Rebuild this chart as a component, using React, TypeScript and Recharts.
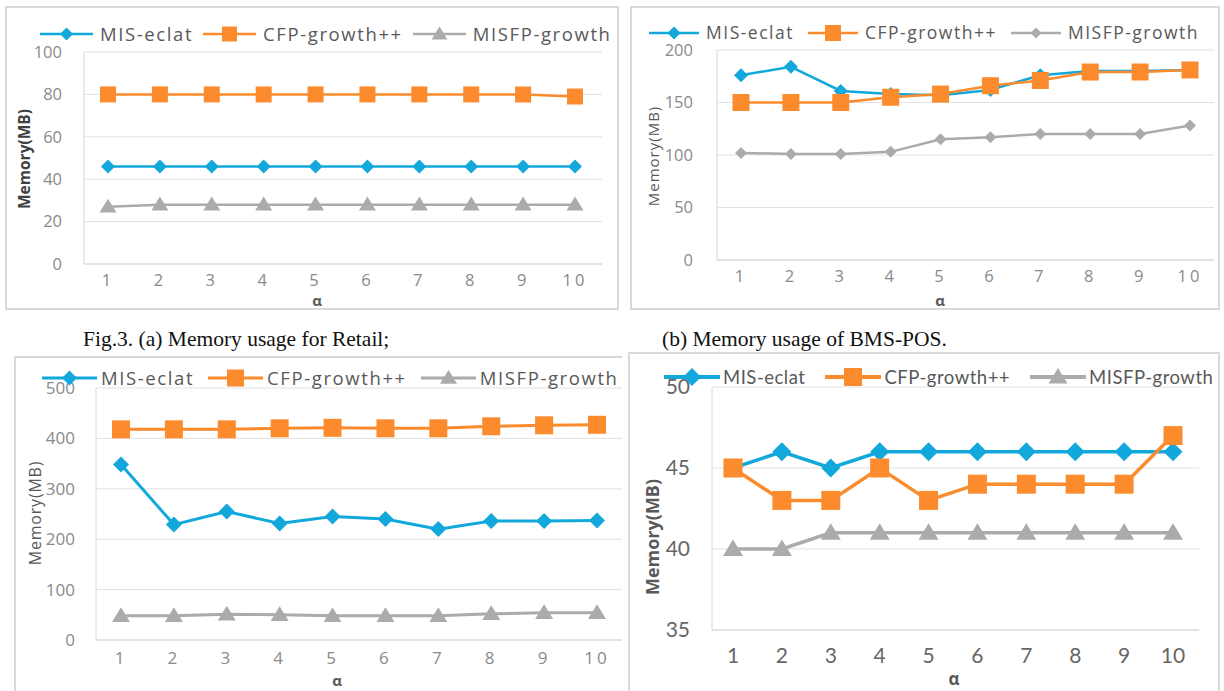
import React from "react";
import { LineChart, Line, XAxis, YAxis, CartesianGrid } from "recharts";

// x categories shared by all four panels
const alphaTicks = ["1", "2", "3", "4", "5", "6", "7", "8", "9", "10"];

const seriesNames = ["MIS-eclat", "CFP-growth++", "MISFP-growth"];
const seriesColors = ["#13a8dc", "#fb8b2d", "#ababab"];

// (a) Retail, top left
const retailEclat = [46, 46, 46, 46, 46, 46, 46, 46, 46, 46];
const retailCfp = [80, 80, 80, 80, 80, 80, 80, 80, 80, 79];
const retailMisfp = [27, 28, 28, 28, 28, 28, 28, 28, 28, 28];
const retailYTicks = [0, 20, 40, 60, 80, 100];

// (b) BMS-POS, top right
const posEclat = [176, 184, 161, 158, 157, 162, 176, 180, 180, 181];
const posCfp = [150, 150, 150, 155, 158, 166, 171, 179, 179, 181];
const posMisfp = [102, 101, 101, 103, 115, 117, 120, 120, 120, 128];
const posYTicks = [0, 50, 100, 150, 200];

// bottom left
const c3Eclat = [348, 229, 255, 231, 245, 240, 220, 236, 236, 237];
const c3Cfp = [418, 418, 418, 420, 421, 420, 420, 424, 426, 427];
const c3Misfp = [48, 48, 51, 50, 48, 48, 48, 52, 54, 54];
const c3YTicks = [0, 100, 200, 300, 400, 500];

// bottom right
const d3Eclat = [45, 46, 45, 46, 46, 46, 46, 46, 46, 46];
const d3Cfp = [45, 43, 43, 45, 43, 44, 44, 44, 44, 47];
const d3Misfp = [40, 40, 41, 41, 41, 41, 41, 41, 41, 41];
const d3YTicks = [35, 40, 45, 50];

type Shape = "diamond" | "square" | "triangle";

function markerPath(shape: Shape, cx: number, cy: number, s: number) {
  const h = s / 2;
  if (shape === "diamond") return `M${cx},${cy - h}L${cx + h},${cy}L${cx},${cy + h}L${cx - h},${cy}Z`;
  if (shape === "square") return `M${cx - h},${cy - h}h${s}v${s}h${-s}Z`;
  const th = s * 0.82;
  return `M${cx},${cy - th * 0.58}L${cx + h},${cy + th * 0.42}L${cx - h},${cy + th * 0.42}Z`;
}

type PanelCfg = {
  id: string;
  left: number;
  top: number;
  width: number;
  height: number;
  chartW: number;
  noRight?: boolean;
  plotLeft: number;
  plotRight: number;
  plotTop: number;
  plotBottom: number;
  padL: number;
  padR: number;
  yTicks: number[];
  series: number[][];
  shapes: Shape[];
  sizes: number[];
  strokeW: number;
  font: string;
  tickSize: number;
  tickColor: string;
  xTickMargin: number;
  xSpacing: number;
  yTickMargin: number;
  yLabel: { x: number; y: number; size: number; bold: boolean; color: string; spacing: number; font?: string };
  alphaPos: { x: number; y: number; size: number };
  legend: { x: number; y: number; lineW: number; gap: number; textGap: number; size: number; spacing: number; stroke: number };
};

const panels: PanelCfg[] = [
  {
    id: "a", left: 5, top: 6, width: 614, height: 304, chartW: 614,
    plotLeft: 84, plotRight: 602, plotTop: 52, plotBottom: 264, padL: 24, padR: 27,
    yTicks: retailYTicks, series: [retailEclat, retailCfp, retailMisfp],
    shapes: ["diamond", "square", "triangle"], sizes: [14, 16, 17], strokeW: 2.5,
    font: "'Open Sans', sans-serif", tickSize: 16.5, tickColor: "#8a8a8a", xTickMargin: 10, xSpacing: 3, yTickMargin: 22,
    yLabel: { x: 25, y: 159, size: 15.5, bold: true, color: "#404040", spacing: 0 },
    alphaPos: { x: 317, y: 300, size: 15 },
    legend: { x: 40, y: 34, lineW: 53, gap: 10, textGap: 7, size: 18.5, spacing: 1.6, stroke: 2.5 },
  },
  {
    id: "b", left: 630, top: 6, width: 590, height: 304, chartW: 590,
    plotLeft: 717, plotRight: 1214, plotTop: 50, plotBottom: 260, padL: 24, padR: 24,
    yTicks: posYTicks, series: [posEclat, posCfp, posMisfp],
    shapes: ["diamond", "square", "diamond"], sizes: [14, 17, 12], strokeW: 2.5,
    font: "'Open Sans', sans-serif", tickSize: 16.5, tickColor: "#8a8a8a", xTickMargin: 10, xSpacing: 3, yTickMargin: 24,
    yLabel: { x: 653, y: 156, size: 15, bold: false, color: "#595959", spacing: 1 },
    alphaPos: { x: 940, y: 300, size: 15 },
    legend: { x: 649, y: 33, lineW: 50, gap: 14, textGap: 7, size: 17.5, spacing: 1.5, stroke: 2.5 },
  },
  {
    id: "c", left: 14, top: 356, width: 608, height: 340, chartW: 616, noRight: true,
    plotLeft: 96, plotRight: 624, plotTop: 388, plotBottom: 640, padL: 25, padR: 27,
    yTicks: c3YTicks, series: [c3Eclat, c3Cfp, c3Misfp],
    shapes: ["diamond", "square", "triangle"], sizes: [16, 18, 18], strokeW: 3,
    font: "'Open Sans', sans-serif", tickSize: 17, tickColor: "#8a8a8a", xTickMargin: 12, xSpacing: 3, yTickMargin: 21,
    yLabel: { x: 35, y: 513, size: 16, bold: false, color: "#595959", spacing: 0.8 },
    alphaPos: { x: 337, y: 680, size: 15 },
    legend: { x: 42, y: 378, lineW: 55, gap: 14, textGap: 4, size: 18.5, spacing: 1.6, stroke: 3 },
  },
  {
    id: "d", left: 628, top: 352, width: 592, height: 345, chartW: 592,
    plotLeft: 712, plotRight: 1199, plotTop: 387, plotBottom: 630, padL: 21, padR: 26,
    yTicks: d3YTicks, series: [d3Eclat, d3Cfp, d3Misfp],
    shapes: ["diamond", "square", "triangle"], sizes: [19, 19, 20], strokeW: 3.5,
    font: "Lato, sans-serif", tickSize: 21, tickColor: "#666666", xTickMargin: 18, xSpacing: 0, yTickMargin: 22,
    yLabel: { x: 652, y: 537, size: 18, bold: true, color: "#595959", spacing: 0, font: "'Open Sans', sans-serif" },
    alphaPos: { x: 954, y: 678, size: 17 },
    legend: { x: 664, y: 377, lineW: 56, gap: 20, textGap: 3, size: 18.5, spacing: 0.5, stroke: 4 },
  },
];

function Legend({ p }: { p: PanelCfg }) {
  const L = p.legend;
  return (
    <div
      style={{
        position: "absolute",
        left: L.x - p.left,
        top: L.y - p.top,
        transform: "translateY(-50%)",
        display: "flex",
        alignItems: "center",
        whiteSpace: "nowrap",
        fontFamily: p.font,
        fontSize: L.size,
        letterSpacing: L.spacing,
        color: "#595959",
        lineHeight: 1,
      }}
    >
      {seriesNames.map((name, i) => (
        <div key={name} style={{ display: "flex", alignItems: "center", marginRight: L.gap }}>
          <svg width={L.lineW} height={22} style={{ display: "block" }}>
            <line x1={0} y1={11} x2={L.lineW} y2={11} stroke={seriesColors[i]} strokeWidth={L.stroke} />
            <path d={markerPath(p.shapes[i], L.lineW / 2, 11, p.sizes[i] - 1)} fill={seriesColors[i]} />
          </svg>
          <span style={{ marginLeft: L.textGap }}>{name}</span>
        </div>
      ))}
    </div>
  );
}

function Panel({ p }: { p: PanelCfg }) {
  const data = alphaTicks.map((a, i) => ({
    alpha: a,
    s0: p.series[0][i],
    s1: p.series[1][i],
    s2: p.series[2][i],
  }));
  const yMin = p.yTicks[0];
  const yMax = p.yTicks[p.yTicks.length - 1];

  return (
    <div
      style={{
        position: "absolute",
        left: p.left,
        top: p.top,
        width: p.width,
        height: p.height,
        overflow: "hidden",
      }}
    >
      <div
        style={{
          position: "absolute",
          inset: 0,
          boxSizing: "border-box",
          border: "2px solid #d9d9d9",
          borderRight: p.noRight ? "none" : "2px solid #d9d9d9",
        }}
      />
      <div style={{ position: "absolute", left: 0, top: 0 }}>
        <LineChart
          width={p.chartW}
          height={p.height}
          data={data}
          margin={{ top: p.plotTop - p.top, right: p.left + p.chartW - p.plotRight, left: 0, bottom: 0 }}
        >
          <CartesianGrid vertical={false} stroke="#e2e2e2" strokeWidth={1} />
          <XAxis
            dataKey="alpha"
            height={p.top + p.height - p.plotBottom}
            padding={{ left: p.padL, right: p.padR }}
            interval={0}
            tickLine={false}
            tickSize={0}
            tickMargin={p.xTickMargin}
            axisLine={{ stroke: "#d6d6d6" }}
            tick={{ fill: p.tickColor, fontSize: p.tickSize, fontFamily: p.font, letterSpacing: p.xSpacing }}
          />
          <YAxis
            width={p.plotLeft - p.left}
            domain={[yMin, yMax]}
            ticks={p.yTicks}
            interval={0}
            tickLine={false}
            tickSize={0}
            tickMargin={p.yTickMargin}
            axisLine={{ stroke: "#d6d6d6" }}
            tick={{ fill: p.tickColor, fontSize: p.tickSize, fontFamily: p.font }}
          />
          {["s0", "s1", "s2"].map((key, i) => (
            <Line
              key={key}
              type="linear"
              dataKey={key}
              name={seriesNames[i]}
              stroke={seriesColors[i]}
              strokeWidth={p.strokeW}
              isAnimationActive={false}
              activeDot={false}
              dot={(props: any) => (
                <path
                  key={`${p.id}-${key}-${props.index}`}
                  d={markerPath(p.shapes[i], props.cx, props.cy, p.sizes[i])}
                  fill={seriesColors[i]}
                />
              )}
            />
          ))}
        </LineChart>
      </div>
      <Legend p={p} />
      <div
        style={{
          position: "absolute",
          left: p.yLabel.x - p.left,
          top: p.yLabel.y - p.top,
          transform: "translate(-50%, -50%) rotate(-90deg)",
          whiteSpace: "nowrap",
          fontFamily: p.yLabel.font || p.font,
          fontSize: p.yLabel.size,
          fontWeight: p.yLabel.bold ? 700 : 400,
          color: p.yLabel.color,
          letterSpacing: p.yLabel.spacing,
          lineHeight: 1,
        }}
      >
        Memory(MB)
      </div>
      <div
        style={{
          position: "absolute",
          left: p.alphaPos.x - p.left,
          top: p.alphaPos.y - p.top,
          transform: "translate(-50%, -50%)",
          fontFamily: "'Open Sans', sans-serif",
          fontWeight: 700,
          fontSize: p.alphaPos.size,
          color: "#595959",
          lineHeight: 1,
        }}
      >
        α
      </div>
    </div>
  );
}

export default function App() {
  const caption = {
    position: "absolute" as const,
    top: 340,
    transform: "translateY(-50%)",
    fontFamily: "'Liberation Serif', 'Times New Roman', serif",
    fontSize: 21.5,
    color: "#111",
    whiteSpace: "nowrap" as const,
    lineHeight: 1,
  };
  return (
    <div style={{ position: "relative", width: 1224, height: 691, overflow: "hidden", background: "#fff" }}>
      <style>{"body{margin:0}"}</style>
      {panels.map((p) => (
        <Panel key={p.id} p={p} />
      ))}
      <div style={{ ...caption, left: 83 }}>Fig.3. (a) Memory usage for Retail;</div>
      <div style={{ ...caption, left: 662 }}>(b) Memory usage of BMS-POS.</div>
    </div>
  );
}
